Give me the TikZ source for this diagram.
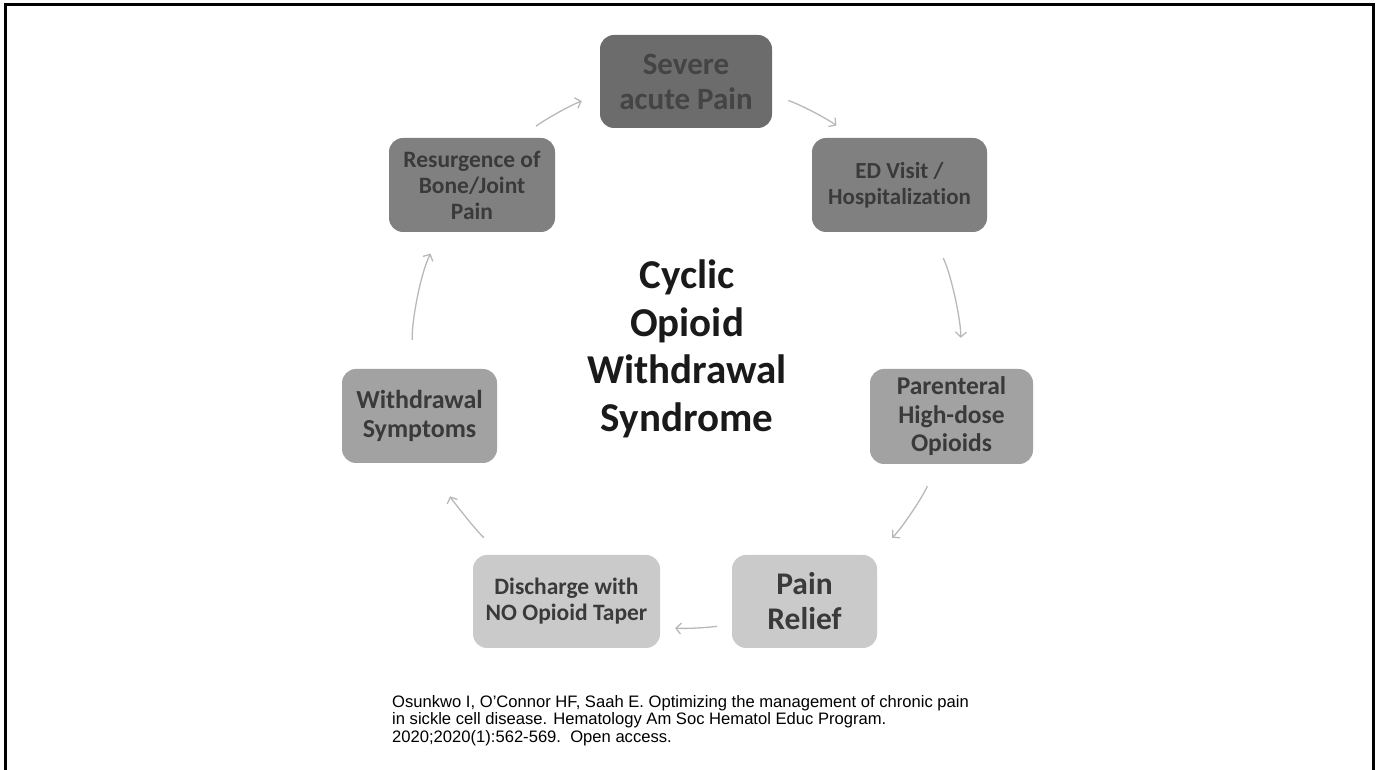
\documentclass[tikz,border=0pt]{standalone}
\usepackage{fontspec}
\setmainfont[Ligatures=NoCommon]{Carlito}
\newfontfamily\citefont{Liberation Sans}
\usetikzlibrary{arrows.meta}
\definecolor{fa}{HTML}{6C6C6C}
\definecolor{fb}{HTML}{808080}
\definecolor{fc}{HTML}{A2A2A2}
\definecolor{fd}{HTML}{CACACA}
\definecolor{txt}{HTML}{3A3A3A}
\definecolor{txta}{HTML}{444444}
\definecolor{ttl}{HTML}{1A1A1A}
\definecolor{arrc}{HTML}{B8B8B8}
\begin{document}
\begin{tikzpicture}[x=1pt,y=1pt,
  box/.style={rectangle, rounded corners=14pt, inner sep=0pt, align=center, text=txt},
  arr/.style={draw=arrc, line width=1.3pt, -{Straight Barb[length=5pt,width=11pt]}, looseness=0.85}]
\useasboundingbox (0,0) rectangle (1376,770);
\draw[line width=3pt] (5.5,0) -- (5.5,765.5) -- (1373,765.5) -- (1373,0);

\node[box, fill=fa, text=txta, minimum width=172pt, minimum height=93pt, font=\bfseries\fontsize{31}{35}\selectfont] (sev) at (686,688.5) {Severe\\acute Pain};
\node[box, fill=fb, minimum width=175pt, minimum height=94pt, font=\bfseries\fontsize{23}{25.5}\selectfont] (ed) at (899.5,585) {ED Visit /\\Hospitalization};
\node[box, fill=fc, minimum width=163pt, minimum height=95pt, font=\bfseries\fontsize{25.5}{28.5}\selectfont] (par) at (951.5,353.5) {Parenteral\\High-dose\\Opioids};
\node[box, fill=fd, minimum width=145pt, minimum height=93pt, font=\bfseries\fontsize{31.5}{35}\selectfont] (rel) at (804.5,168.5) {Pain\\Relief};
\node[box, fill=fd, minimum width=187pt, minimum height=93pt, font=\bfseries\fontsize{23.5}{26}\selectfont] (dis) at (566.5,168.5) {Discharge with\\NO Opioid Taper};
\node[box, fill=fc, minimum width=155pt, minimum height=94pt, font=\bfseries\fontsize{26}{29}\selectfont] (wd) at (419.5,354) {Withdrawal\\Symptoms};
\node[box, fill=fb, minimum width=166pt, minimum height=94pt, font=\bfseries\fontsize{23.5}{26}\selectfont] (res) at (472,585) {Resurgence of\\Bone/Joint\\Pain};

\node[align=center, text=ttl, inner sep=0pt, font=\bfseries\fontsize{41}{47.5}\selectfont] (title) at (687,421) {Cyclic\\Opioid\\Withdrawal\\Syndrome};

\draw[arr, shorten <=17pt, shorten >=20pt] (sev.-9.6) to[out=-18.4, in=142.6] (ed.135.4);
\draw[arr, shorten <=29pt, shorten >=31pt] (ed.-57.3) to[out=-63.2, in=87.1] (par.81.5);
\draw[arr, shorten <=24pt, shorten >=25pt] (par.-107.7) to[out=-113.5, in=42.9] (rel.34.6);
\draw[arr, shorten <=15pt, shorten >=15pt] (rel.197.2) to[out=-170.3, in=-5.5] (dis.-15.1);
\draw[arr, shorten <=25pt, shorten >=36pt] (dis.144.9) to[out=137.1, in=-66.7] (wd.-71.4);
\draw[arr, shorten <=29pt, shorten >=24pt] (wd.97.5) to[out=92.9, in=-116.8] (res.237.7);
\draw[arr, shorten <=19pt, shorten >=19pt] (res.44.3) to[out=37.4, in=198.4] (sev.189.6);

\node[anchor=north west, align=left, inner sep=0pt, font=\citefont\fontsize{16.6}{17.5}\selectfont] (cite) at (392,75) {Osunkwo I, O’Connor HF, Saah E. Optimizing the management of chronic pain\\in sickle cell disease. Hematology Am Soc Hematol Educ Program.\\2020;2020(1):562-569.\ \ Open access.};
\end{tikzpicture}
\end{document}
